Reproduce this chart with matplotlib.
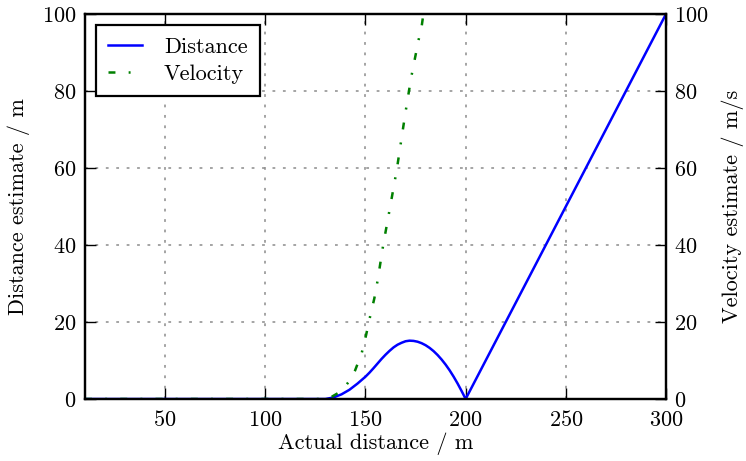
import matplotlib
matplotlib.use("Agg")
import matplotlib.pyplot as plt

plt.rcParams['font.family'] = ['cmr10', 'DejaVu Serif']
plt.rcParams['axes.formatter.use_mathtext'] = True
plt.rcParams['font.size'] = 16
plt.rcParams['lines.scale_dashes'] = False

# ==========================
# DATA
# ==========================

dist_x = [10, 100, 130, 132, 134, 136, 138, 140, 142, 144, 146, 148, 150,
          152, 154, 156, 158, 160, 162, 164, 166, 168, 170, 172, 174, 176,
          178, 180, 182, 184, 186, 188, 190, 192, 194, 196, 198, 200,
          250, 300]
dist_y = [0, 0, 0, 0.2, 0.4, 0.8, 1.2, 1.8, 2.4, 3.2, 4.0, 4.9, 5.8,
          6.85, 8.0, 9.2, 10.4, 11.5, 12.5, 13.4, 14.1, 14.6, 15.0, 15.15,
          15.09, 14.88, 14.5, 13.97, 13.28, 12.43, 11.42, 10.25, 8.93,
          7.45, 5.8, 4.0, 2.05, 0, 50, 100]

vel_x = [10, 100, 130, 133.2, 136.5, 139.8, 142.5, 144.8, 148.1, 150.3,
         152.3, 154.4, 156.1, 158.9, 162.3, 165.6, 169.8, 172.8, 176.4,
         178.1, 178.9]
vel_y = [0, 0, 0, 0.6, 1.6, 3.2, 5.1, 7.4, 11.9, 16.6,
         21.4, 26.1, 30.9, 40.2, 49.9, 59.5, 73.9, 83.5, 93, 97, 100]

# ==========================
# PLOT
# ==========================

fig = plt.figure(figsize=(7.46, 4.61), dpi=100)
ax = fig.add_axes([85 / 746, 62 / 461, 581 / 746, 385 / 461])
ax2 = ax.twinx()

l1, = ax.plot(dist_x, dist_y, color='blue', lw=1.8, label='Distance')
l2, = ax2.plot(vel_x, vel_y, color='green', lw=1.8, linestyle='-.',
               dashes=(5, 9.5, 1.4, 9.5), label='Velocity')

ax.set_xlim(10, 300)
ax.set_ylim(0, 100)
ax2.set_ylim(0, 100)
ax.set_xticks([50, 100, 150, 200, 250, 300])
ax.set_yticks([0, 20, 40, 60, 80, 100])
ax2.set_yticks([0, 20, 40, 60, 80, 100])

ax.grid(True, color='0.55', linestyle=(0, (2, 5.5)), linewidth=1.1)
ax.tick_params(direction='in', length=8, width=1, top=True, pad=6)
ax.tick_params(axis='x', pad=8)
ax2.tick_params(direction='in', length=8, width=1, pad=6)
for a in (ax, ax2):
    for s in a.spines.values():
        s.set_linewidth(1.6)

ax.set_xlabel("Actual distance / m", labelpad=2)
ax.set_ylabel("Distance estimate / m", labelpad=9)
ax2.set_ylabel("Velocity estimate / m/s", labelpad=9)

leg = ax2.legend([l1, l2], ['Distance', 'Velocity'], loc='upper left',
                 fancybox=False, framealpha=1, edgecolor='black',
                 handlelength=1.5, handletextpad=1.0, borderpad=0.55,
                 labelspacing=0.35, borderaxespad=0.5)
leg.get_frame().set_linewidth(1.6)

plt.savefig("out.png", dpi=100)
plt.close()
